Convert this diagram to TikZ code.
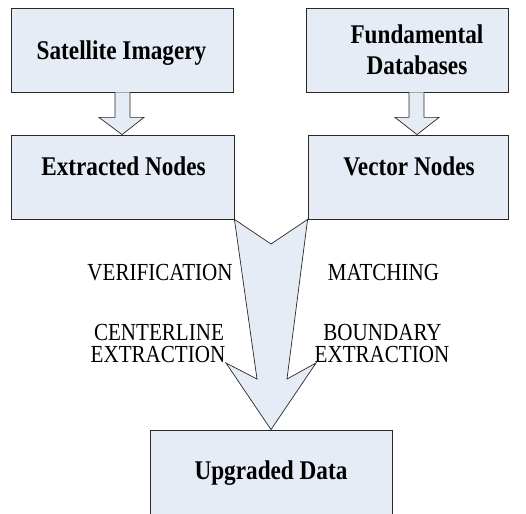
\documentclass[tikz,border=0pt]{standalone}
\usepackage{fontspec}
\setmainfont{Liberation Serif}[FakeStretch=0.86]
\usetikzlibrary{calc}
\definecolor{boxfill}{RGB}{229,236,246}
\definecolor{edge}{RGB}{40,40,40}
\tikzset{
  box/.style={draw=edge, fill=boxfill, line width=0.8pt, inner sep=0pt},
  blockarrow/.style={draw=edge, fill=boxfill, line width=0.7pt, line join=miter},
  title/.style={anchor=base, inner sep=0pt, font=\bfseries\fontsize{27}{31.7}\selectfont, align=center},
  step label/.style={anchor=base, inner sep=0pt, font=\fontsize{24.5}{21.7}\selectfont}
}
\begin{document}
\begin{tikzpicture}[x=1pt, y=-1pt]
\useasboundingbox (0,0) rectangle (526,513);
\clip (0,0) rectangle (526,513);

% source boxes
\node[box, minimum width=222pt, minimum height=84pt] (sat) at (122,50) {};
\node[box, minimum width=202pt, minimum height=84pt] (fund) at (407,50) {};
% intermediate boxes
\node[box, minimum width=223pt, minimum height=84pt] (ext) at (122.5,177) {};
\node[box, minimum width=200pt, minimum height=84pt] (vec) at (408,177) {};
% result box (runs off the lower edge)
\node[box, minimum width=242pt, minimum height=110pt] (upg) at (271,485) {};

% box titles (base anchor = baseline of the last line)
\node[title] (tsat) at (121.5,59.3) {Satellite Imagery};
\node[title] (tfund) at (417,75) {Fundamental\\Databases};
\node[title] (text) at (123.5,175.5) {Extracted Nodes};
\node[title] (tvec) at (409,175.5) {Vector Nodes};
\node[title] (tupg) at (271,479) {Upgraded Data};

% small block arrows between source and intermediate boxes
\draw[blockarrow] ($(sat.south)+(-7,0)$) -- ++(0,25) -- ++(-16,0)
  -- ($(ext.north)+(-0.5,0)$) -- ($(sat.south)+(22,25)$) -- ++(-14,0) -- ++(0,-25);
\draw[blockarrow] ($(fund.south)+(2,0)$) -- ++(0,25) -- ++(-14,0)
  -- ($(vec.north)+(9,0)$) -- ($(fund.south)+(32,25)$) -- ++(-15,0) -- ++(0,-25);

% large merging arrow from both intermediate boxes to the result
\coordinate (al) at (ext.south east);
\coordinate (ar) at (vec.south west);
\draw[blockarrow] (al) -- (257,379) -- (226,363) -- (upg.north) -- (316,363)
  -- (287,379) -- (ar) -- (271,244) -- cycle;

% process labels
\node[step label] (lver) at (160,280.7) {VERIFICATION};
\node[step label] (lmat) at (383.5,280.7) {MATCHING};
\node[step label] (lcen) at (159,340.3) {CENTERLINE};
\node[step label] (lcenx) at (158,362) {EXTRACTION};
\node[step label] (lbnd) at (382.5,340.3) {BOUNDARY};
\node[step label] (lbndx) at (382,362) {EXTRACTION};
\end{tikzpicture}
\end{document}
